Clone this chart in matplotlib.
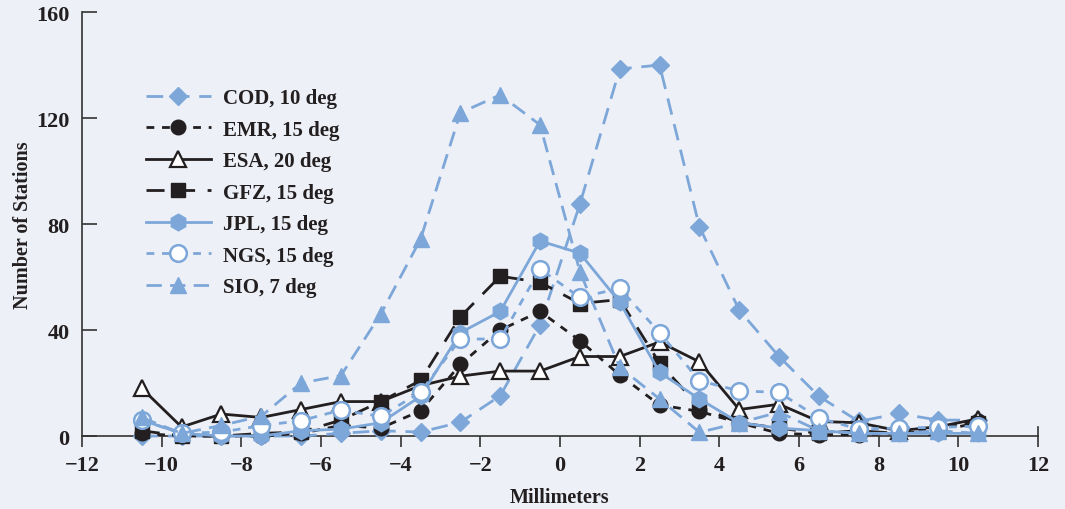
import matplotlib
matplotlib.use("Agg")
import matplotlib.pyplot as plt

x_mm = [-10.5, -9.5, -8.5, -7.5, -6.5, -5.5, -4.5, -3.5, -2.5, -1.5, -0.5,
        0.5, 1.5, 2.5, 3.5, 4.5, 5.5, 6.5, 7.5, 8.5, 9.5, 10.5]

cod = [0, 0, 0, 0, 0, 1, 2, 1.5, 5.2, 15.2, 42, 87.5, 138.5, 140, 79, 47.5, 30, 15, 5.5, 8.5, 6, 6]
emr = [1, 0, 0, 0, 1, 4, 3, 9.5, 27, 40, 47, 36, 23, 11.7, 9.3, 5, 1, 0.5, 0.5, 1, 3, 5.5]
esa = [18, 3.4, 8.3, 7, 10, 13, 13, 19, 22.6, 24.5, 24.5, 30, 30, 35.5, 28, 10, 12, 5.5, 5, 2, 3.5, 6.5]
gfz = [2, 0, 0, 1, 1.5, 6, 13, 21, 45, 60.3, 58, 50, 51.5, 27.5, 11, 5, 3, 1, 2, 1, 2, 5]
jpl = [6, 1, 0, 0, 2, 2.6, 5, 15, 39, 47, 73.6, 69, 50.5, 24, 14, 5, 3, 2, 1, 1, 1, 1]
ngs = [6, 1, 1.5, 3.9, 5.8, 9.8, 7.4, 16.6, 36.6, 36.6, 63, 52.3, 55.7, 39, 20.9, 17, 16.5, 6.8, 2.6, 3, 3.3, 3.7]
sio = [7, 1, 4, 7.5, 20, 22.8, 46, 74.3, 122, 128.7, 117.4, 62, 26, 14, 1.4, 5, 9, 2, 1, 1, 2, 1]

labels = ["COD, 10 deg", "EMR, 15 deg", "ESA, 20 deg", "GFZ, 15 deg",
          "JPL, 15 deg", "NGS, 15 deg", "SIO, 7 deg"]

BLUE = "#7da7d9"
BLACK = "#231f20"
BG = "#edf0f7"

plt.rcParams['font.family'] = ['Liberation Serif', 'DejaVu Serif']
plt.rcParams['font.weight'] = 'bold'

fig = plt.figure(figsize=(10.65, 5.10), dpi=100, facecolor=BG)
ax = fig.add_axes([0.077, 0.1431, 0.8976, 0.8314], facecolor=BG)

lw = 2.0
styles = [
    dict(data=cod, color=BLUE, ls=(0, (6, 3.5)), marker='D', ms=9, mfc=BLUE, mec=BLUE, mew=1.0),
    dict(data=emr, color=BLACK, ls=(0, (2.8, 2.8)), marker='o', ms=10.5, mfc=BLACK, mec=BLACK, mew=1.0),
    dict(data=esa, color=BLACK, ls='-', marker='^', ms=11.5, mfc='white', mec=BLACK, mew=1.6),
    dict(data=gfz, color=BLACK, ls=(0, (6.5, 4.5)), marker='s', ms=10, mfc=BLACK, mec=BLACK, mew=1.0),
    dict(data=jpl, color=BLUE, ls='-', marker='h', ms=12, mfc=BLUE, mec=BLUE, mew=1.0),
    dict(data=ngs, color=BLUE, ls=(0, (2.8, 2.8)), marker='o', ms=12, mfc='white', mec=BLUE, mew=1.8),
    dict(data=sio, color=BLUE, ls=(0, (5.5, 3)), marker='^', ms=11.5, mfc=BLUE, mec=BLUE, mew=1.0),
]

handles = []
for st, lab in zip(styles, labels):
    ln, = ax.plot(x_mm, st['data'], color=st['color'], ls=st['ls'], lw=lw,
                  marker=st['marker'], ms=st['ms'], mfc=st['mfc'], mec=st['mec'],
                  mew=st['mew'], label=lab, clip_on=False, zorder=3)
    handles.append(ln)

ax.set_xlim(-12, 12)
ax.set_ylim(0, 160)
ax.set_xticks(range(-12, 13, 2))
ax.set_yticks([0, 40, 80, 120, 160])

for s in ['top', 'right']:
    ax.spines[s].set_visible(False)
for s in ['left', 'bottom']:
    ax.spines[s].set_color('#333333')
    ax.spines[s].set_linewidth(1.2)

ax.tick_params(axis='y', direction='in', length=11, width=1.2, colors='#333333',
               labelsize=16, labelcolor='#231f20', pad=9)
ax.tick_params(axis='x', direction='out', length=8, width=1.2, colors='#333333',
               labelsize=16, labelcolor='#231f20', pad=6)
# small upward end tick at x = 12
ax.plot([1, 1], [0, 0.022], transform=ax.transAxes, color='#333333', lw=1.2, clip_on=False)

ax.set_xlabel("Millimeters", fontsize=14.5, fontweight='bold', color='#231f20', labelpad=8)
ax.set_ylabel("Number of Stations", fontsize=14.5, fontweight='bold', color='#231f20', labelpad=2)

leg = ax.legend(handles=handles, loc='upper left', bbox_to_anchor=(0.067, 0.82),
                frameon=False, fontsize=15, handlelength=3.1, handletextpad=0.6,
                labelspacing=0.55, borderpad=0, borderaxespad=0)
for t in leg.get_texts():
    t.set_color('#231f20')

fig.savefig("out.png", dpi=100, facecolor=BG)
